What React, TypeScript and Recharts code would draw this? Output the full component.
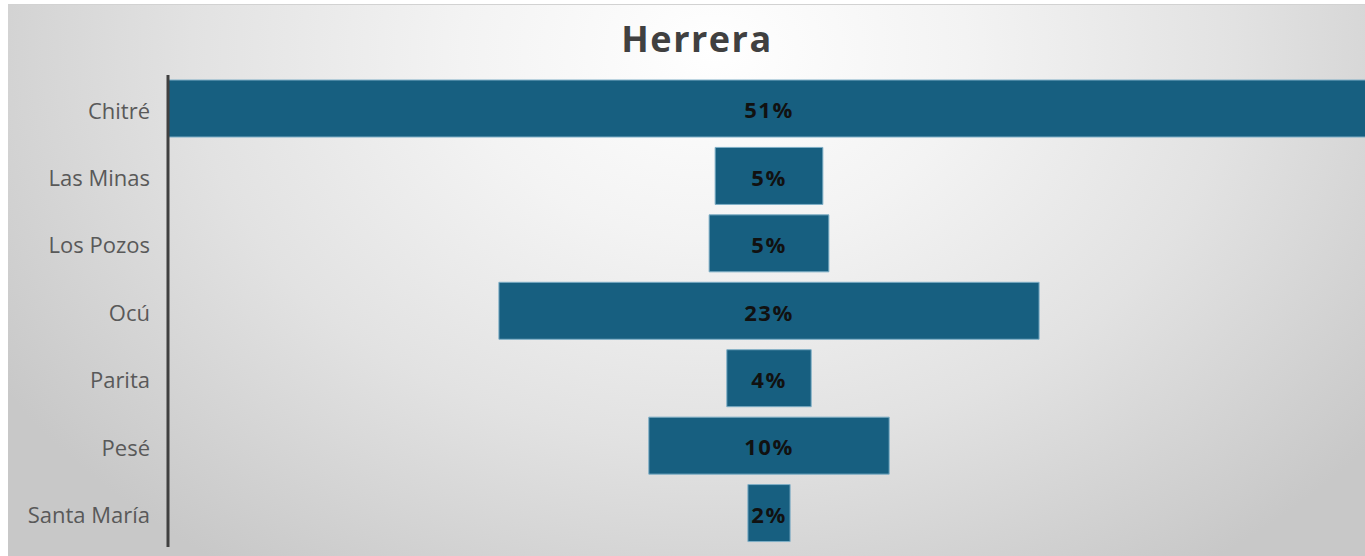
import React from 'react';
import { BarChart, Bar, XAxis, YAxis, LabelList } from 'recharts';

const categories = ['Chitré', 'Las Minas', 'Los Pozos', 'Ocú', 'Parita', 'Pesé', 'Santa María'];
const shares = [51.0, 4.57, 5.08, 22.92, 3.58, 10.2, 1.79];
const title = 'Herrera';

const maxShare = Math.max(...shares);
const data = categories.map((name, i) => ({
  name,
  offset: (maxShare - shares[i]) / 2,
  value: shares[i],
}));

const fmt = (v: any) => `${Math.round(Number(v))}%`;

export default function App() {
  return (
    <div
      style={{
        position: 'absolute',
        left: 8,
        top: 4,
        width: 1357,
        height: 552,
        overflow: 'hidden',
        borderTop: '1px solid #d2d2d2',
        boxSizing: 'border-box',
        background:
          'radial-gradient(ellipse 62% 115% at 52% 8%, #ffffff 0%, #f3f3f3 30%, #e2e2e2 62%, #c8c8c8 100%)',
      }}
    >
      <div
        style={{
          position: 'absolute',
          left: 689,
          top: 16,
          transform: 'translateX(-50%)',
          fontFamily: '"Open Sans", sans-serif',
          fontWeight: 700,
          fontSize: 36,
          lineHeight: 1,
          letterSpacing: 1.5,
          color: '#404040',
          whiteSpace: 'nowrap',
        }}
      >
        {title}
      </div>
      <div style={{ position: 'absolute', left: 0, top: -1 }}>
        <BarChart
          width={1362}
          height={552}
          data={data}
          layout="vertical"
          margin={{ top: 71, right: 0, bottom: 9, left: 0 }}
          barSize={57}
        >
          <XAxis type="number" hide domain={[0, maxShare]} />
          <YAxis
            type="category"
            dataKey="name"
            width={160}
            axisLine={{ stroke: '#404040', strokeWidth: 3 }}
            tickLine={false}
            tickSize={0}
            tickMargin={18}
            tick={{ fill: '#595959', fontSize: 22, fontFamily: '"Open Sans", sans-serif', dy: 2 }}
            interval={0}
          />
          <Bar dataKey="offset" stackId="a" fill="transparent" isAnimationActive={false} />
          <Bar
            dataKey="value"
            stackId="a"
            fill="#175f80"
            stroke="#7eaec6"
            strokeWidth={1}
            isAnimationActive={false}
          >
            <LabelList
              dataKey="value"
              position="center"
              formatter={fmt}
              fill="#111111"
              dy={2}
              style={{
                fontFamily: '"Open Sans", sans-serif',
                fontWeight: 700,
                fontSize: 22,
                letterSpacing: 1.5,
              }}
            />
          </Bar>
        </BarChart>
      </div>
    </div>
  );
}
